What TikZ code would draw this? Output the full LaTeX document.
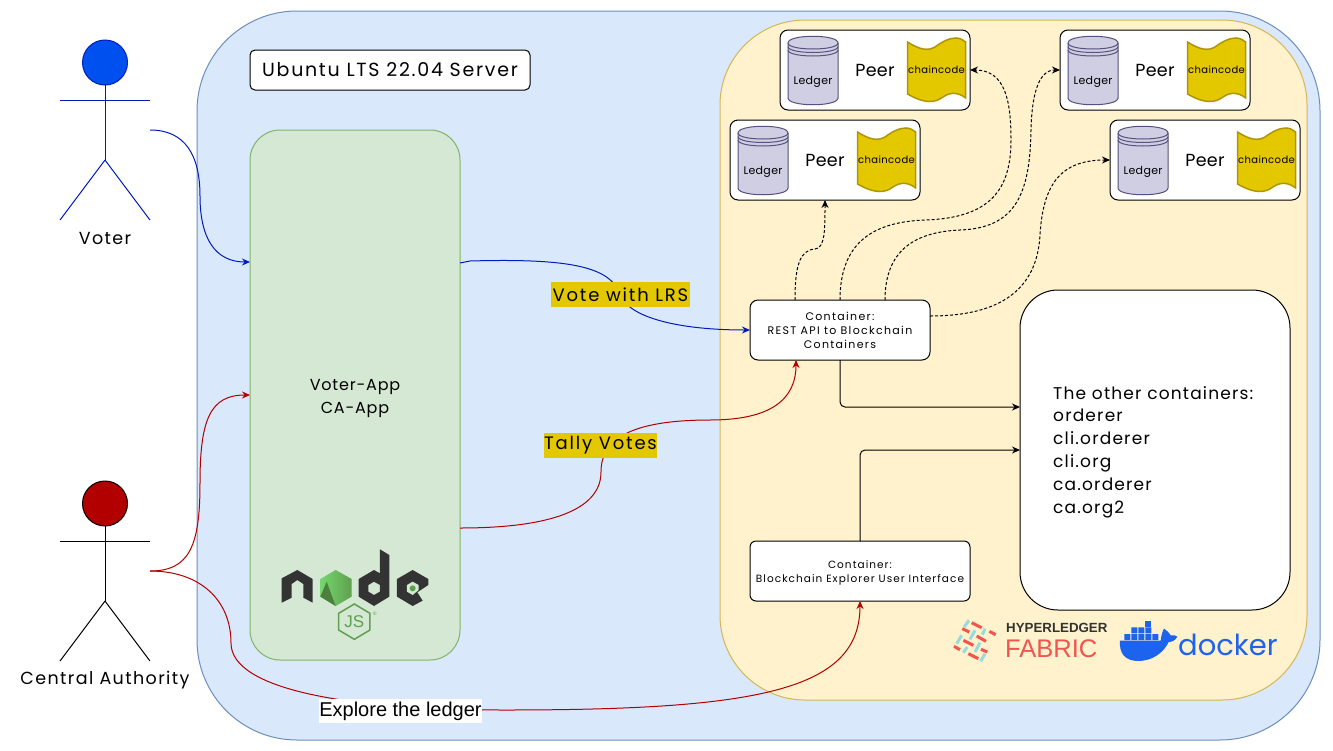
\documentclass[tikz,border=0pt]{standalone}
\usepackage{fontspec}
\usetikzlibrary{arrows.meta}
\setmainfont{Poppins}
\newfontfamily\plainfont{Liberation Sans}
\newcommand{\handfont}[3]{\fontsize{#1}{#2}\selectfont\addfontfeature{LetterSpace=#3}}
\definecolor{serverfill}{HTML}{DAE8FC}
\definecolor{serverline}{HTML}{6C8EBF}
\definecolor{orgfill}{HTML}{FFF2CC}
\definecolor{orgline}{HTML}{D6B656}
\definecolor{appfill}{HTML}{D5E8D4}
\definecolor{appline}{HTML}{82B366}
\definecolor{ledgerfill}{HTML}{D0CEE2}
\definecolor{ledgerline}{HTML}{56517E}
\definecolor{codefill}{HTML}{E3C800}
\definecolor{codeline}{HTML}{B09500}
\definecolor{voteblue}{HTML}{001DBC}
\definecolor{votehead}{HTML}{0050EF}
\definecolor{authred}{HTML}{B20000}
\definecolor{nodedark}{HTML}{333333}
\definecolor{nodegreen}{HTML}{5FA04E}
\definecolor{fabricred}{HTML}{F0554F}
\definecolor{fabricteal}{HTML}{95DCE0}
\definecolor{dockerblue}{HTML}{1D63ED}
\tikzset{
	box/.style = {draw, line width=1pt, fill=white, rounded corners=8pt, inner sep=0pt, outer sep=0pt, align=center},
	area/.style = {draw, line width=1pt, inner sep=0pt, outer sep=0pt},
	limb/.style = {line width=1pt},
	bluelink/.style = {line width=1pt, voteblue, -{Stealth[length=8pt,width=7pt]}},
	redlink/.style = {line width=1pt, authred, -{Stealth[length=8pt,width=7pt]}},
	blacklink/.style = {line width=1pt, black, rounded corners=5pt, -{Stealth[length=8pt,width=7pt]}},
	dashend/.style = {line width=1pt, densely dashed, -{Stealth[length=8pt,width=7pt]}},
	hand/.style = {font=\handfont{17.5}{23}{8}},
	tag/.style = {fill=codefill, inner sep=0pt, outer sep=0pt, font=\handfont{18}{20}{10}}
}
\newcommand{\peerbox}[3]{
\node[box, minimum width=190pt, minimum height=80pt] (#1) at (#2+95,#3+40) {};
\begin{scope}[shift={(#2,#3)}]
\draw[line width=1pt, ledgerline, fill=ledgerfill] (8,13) .. controls (8,4) and (58,4) .. (58,13) -- (58,68) .. controls (58,77) and (8,77) .. (8,68) -- cycle;
\draw[line width=1pt, ledgerline] (8,13) .. controls (8,21) and (58,21) .. (58,13);
\draw[line width=1pt, ledgerline] (8,16.5) .. controls (8,24.5) and (58,24.5) .. (58,16.5);
\draw[line width=1pt, ledgerline] (8,20) .. controls (8,28) and (58,28) .. (58,20);
\node[font=\handfont{11}{12}{3}] (#1-ledger) at (33,52) {Ledger};
\node[font=\handfont{17.5}{18}{2}] (#1-name) at (95,40) {Peer};
\draw[line width=1.5pt, codeline, fill=codefill] (127.5,12) .. controls (140,20) and (148,21) .. (155,17) .. controls (163,11) and (170,8) .. (176,8) .. controls (180,8) and (183,10) .. (185.7,12) -- (185.7,68) .. controls (178,62) and (170,62) .. (163,67) .. controls (155,73) and (145,74) .. (127.5,64) -- cycle;
\node[font=\handfont{10}{12}{4}] (#1-code) at (156.5,40) {chaincode};
\end{scope}
}
\begin{document}
\begin{tikzpicture}[x=1pt,y=-1pt]
\useasboundingbox (0,0) rectangle (1333,750);
\node[area, draw=serverline, fill=serverfill, rounded corners=100pt, minimum width=1123pt, minimum height=729pt] (server) at (758.5,375.5) {};
\node[area, draw=orgline, fill=orgfill, rounded corners=85pt, minimum width=587pt, minimum height=680pt] (org) at (1013.5,360) {};
\node[box, rounded corners=5pt, minimum width=280pt, minimum height=40pt, font=\handfont{19}{23}{9}] (title) at (390,70) {Ubuntu LTS 22.04 Server};
\node[area, draw=appline, fill=appfill, rounded corners=30pt, minimum width=210pt, minimum height=530pt] (app) at (355,395) {};
\node[font=\handfont{16}{23}{5}, align=center] (apptext) at (355,398) {Voter-App\\CA-App};
\peerbox{peerc}{780}{30}
\peerbox{peerd}{1060}{30}
\peerbox{peera}{730}{120}
\peerbox{peerb}{1110}{120}
\node[box, minimum width=180pt, minimum height=60pt, font=\handfont{11}{14}{12}] (rest) at (840,330) {Container:\\REST API to Blockchain\\Containers};
\node[box, rounded corners=6pt, minimum width=220pt, minimum height=60pt] (explorer) at (860,571) {};
\node[align=center, font=\handfont{10.5}{14}{10}] (explorertext) at (860,573) {Container:\\Blockchain Explorer User Interface};
\node[box, rounded corners=38pt, minimum width=270pt, minimum height=320pt] (others) at (1155,450) {};
\node[anchor=north west, inner sep=0pt, align=left, font=\handfont{17}{22.8}{7}] (otherstext) at (1053,386) {The other containers:\\orderer\\cli.orderer\\cli.org\\ca.orderer\\ca.org2};
% voter
\draw[limb, voteblue, fill=votehead] (105,62.5) circle (22.5);
\node[inner sep=0pt] (voter) at (105,62.5) {};
\draw[limb, voteblue] (105,85) -- (105,160);
\draw[limb, voteblue] (60,100) -- (150,100);
\draw[limb, voteblue] (105,160) -- (60,220);
\draw[limb, voteblue] (105,160) -- (150,220);
\node[hand] (voterlabel) at (105,238) {Voter};
\coordinate (voterhand) at (150,130);
% central authority
\draw[limb, fill=authred] (105,503.5) circle (22.5);
\node[inner sep=0pt] (auth) at (105,503.5) {};
\draw[limb] (105,526) -- (105,601);
\draw[limb] (60,541) -- (150,541);
\draw[limb] (105,601) -- (60,661);
\draw[limb] (105,601) -- (150,661);
\node[hand] (authlabel) at (105,680) {Central Authority};
\coordinate (authhand) at (150,571);
% links
\coordinate (appvote) at (250,262);
\coordinate (appvoteout) at (460,263);
\coordinate (apptallyout) at (460,528);
\coordinate (resttally) at (796,360);
\coordinate (restdown) at (840,360);
\coordinate (othersup) at (1020,407);
\coordinate (othersdown) at (1020,450);
\coordinate (explorerup) at (860,541);
\coordinate (resta) at (795,300);
\coordinate (restb) at (840,300);
\coordinate (restc) at (885,300);
\coordinate (restd) at (930,316);
\draw[bluelink] (voterhand) .. controls (185,130) and (200,155) .. (200,196) .. controls (200,238) and (215,262) .. (appvote);
\draw[bluelink] (appvoteout) -- (470,261) .. controls (575,258) and (610,268) .. (620,294) .. controls (628,318) and (680,330) .. (rest.west);
\draw[redlink] (authhand) .. controls (190,571) and (200,545) .. (200,483) .. controls (200,420) and (210,395) .. (app.west);
\draw[redlink] (apptallyout) .. controls (550,528) and (601,510) .. (601,472) .. controls (601,445) and (620,420) .. (710,420) .. controls (770,420) and (796,400) .. (resttally);
\draw[redlink] (authhand) .. controls (200,571) and (231,600) .. (231,643) .. controls (231,690) and (350,710) .. (505,710) .. controls (760,710) and (860,690) .. (explorer.south);
\draw[blacklink] (restdown) -- (restdown |- othersup) -- (othersup);
\draw[blacklink] (explorerup) -- (explorerup |- othersdown) -- (othersdown);
\draw[dashend] (resta) .. controls (795,265) and (800,250) .. (815,249) .. controls (825,248) and (825,230) .. (peera.south);
\draw[dashend] (restb) .. controls (840,245) and (870,222) .. (925,220) .. controls (990,218) and (1011,190) .. (1011,140) .. controls (1011,100) and (1005,70) .. (peerc.east);
\draw[dashend] (restc) .. controls (885,250) and (915,232) .. (960,230) .. controls (1015,228) and (1030,195) .. (1031,130) .. controls (1032,90) and (1040,70) .. (peerd.west);
\draw[dashend] (restd) .. controls (1000,316) and (1037,290) .. (1040,235) .. controls (1043,185) and (1060,160) .. (peerb.west);
\node[tag, minimum width=139pt, minimum height=25pt] (votetag) at (620.5,294.5) {Vote with LRS};
\node[tag, minimum width=113pt, minimum height=25pt] (tallytag) at (600.5,445.5) {Tally Votes};
\node[fill=white, inner sep=0pt, minimum width=163pt, minimum height=24pt, font=\plainfont\fontsize{20}{22}\selectfont] (ledgertag) at (400.5,711) {Explore the ledger};
% node logo
\begin{scope}[shift={(260,530)},x=0.3333pt,y=-0.3333pt]
\fill[nodedark] (65,145) -- (112,120) -- (158,147) -- (158,218) -- (130,203) -- (130,162) -- (112,150) -- (95,162) -- (95,203) -- (65,218) -- cycle;
\shade[left color=nodegreen!60!green!70!white, right color=nodegreen] (227,120) -- (275,147) -- (275,200) -- (227,228) -- (181,200) -- (181,147) -- cycle;
\fill[nodegreen!80!black] (181,200) -- (200,155) -- (227,228) -- cycle;
\fill[nodedark, even odd rule] (360,58) -- (388,75) -- (388,200) -- (342,228) -- (296,200) -- (296,147) -- (342,120) -- (360,130) -- cycle (342,155) -- (360,165) -- (360,185) -- (342,195) -- (325,185) -- (325,165) -- cycle;
\fill[nodedark] (411,147) -- (458,120) -- (505,147) -- (505,165) -- (472,187) -- (488,212) -- (458,228) -- (411,200) -- cycle;
\fill[appfill] (458,155) -- (476,165) -- (476,180) -- (458,195) -- (441,185) -- (441,165) -- cycle;
\fill[nodegreen] (458,175) circle (9);
\draw[nodegreen, line width=1.5pt] (283,222) -- (330,250) -- (330,300) -- (283,328) -- (236,300) -- (236,250) -- cycle;
\node[nodegreen, font=\plainfont\fontsize{17}{17}\selectfont] (jsmark) at (283,275) {JS};
\node[nodegreen, font=\plainfont\fontsize{5}{5}\selectfont] (regmark) at (344,250) {®};
\end{scope}
% fabric logo
\begin{scope}[shift={(950,612)},x=0.3333pt,y=-0.3333pt]
\draw[fabricteal, line width=3pt] (57,25) -- (42,45);
\draw[fabricteal, line width=3pt] (105,50) -- (97,68);
\draw[fabricteal, line width=3pt] (35,70) -- (20,95);
\draw[fabricteal, line width=3pt] (75,55) -- (60,82);
\draw[fabricteal, line width=3pt] (90,92) -- (75,120);
\draw[fabricteal, line width=3pt] (52,105) -- (40,122);
\draw[fabricteal, line width=3pt] (105,125) -- (92,148);
\draw[fabricred, line width=3pt] (65,32) -- (95,47);
\draw[fabricred, line width=3pt] (118,58) -- (137,68);
\draw[fabricred, line width=3pt] (37,50) -- (58,60);
\draw[fabricred, line width=3pt] (80,72) -- (108,88);
\draw[fabricred, line width=3pt] (40,85) -- (70,100);
\draw[fabricred, line width=3pt] (12,103) -- (30,113);
\draw[fabricred, line width=3pt] (55,125) -- (85,140);
\draw[fabricred, line width=3pt] (93,112) -- (112,120);
\end{scope}
\node[anchor=west, inner sep=0pt, text=nodedark, font=\plainfont\bfseries\fontsize{13.3}{14}\selectfont] (fabrictop) at (1006,628) {HYPERLEDGER};
\node[anchor=west, inner sep=0pt, text=fabricred, font=\plainfont\fontsize{25.5}{28}\selectfont] (fabricname) at (1005,649) {FABRIC};
% docker logo
\begin{scope}[shift={(940,600)},x=0.3333pt,y=-0.3333pt]
\fill[dockerblue] (540,122) -- (662,122) .. controls (664,105) and (668,92) .. (672,86) .. controls (682,92) and (690,102) .. (692,106) .. controls (700,104) and (708,106) .. (712,110) .. controls (706,122) and (695,126) .. (686,126) .. controls (670,160) and (635,183) .. (595,183) .. controls (555,183) and (537,160) .. (540,122) -- cycle;
\fill[dockerblue] (553,102) rectangle (571,120) (574,102) rectangle (592,120) (595,102) rectangle (613,120) (616,102) rectangle (634,120) (637,102) rectangle (655,120);
\fill[dockerblue] (574,82) rectangle (592,100) (595,82) rectangle (613,100) (616,82) rectangle (634,100);
\fill[dockerblue] (616,63) rectangle (634,80);
\end{scope}
\node[anchor=west, inner sep=0pt, text=dockerblue, font=\fontsize{29}{30}\selectfont] (dockername) at (1178,645) {docker};
\end{tikzpicture}
\end{document}
